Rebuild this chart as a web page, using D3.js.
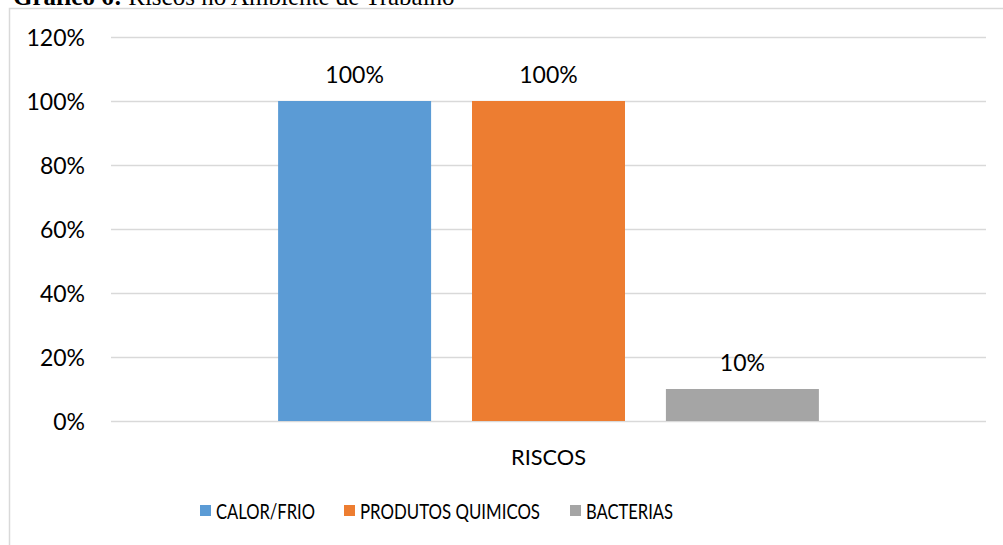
<!DOCTYPE html>
<html>
<head>
<meta charset="utf-8">
<script src="https://cdn.jsdelivr.net/npm/d3@7"></script>
<style>
  body { margin: 0; background: #fff; }
  svg { display: block; }
</style>
</head>
<body>
<svg id="mainsvg" width="1003" height="545"></svg>
<script>
// data
const categories = ["RISCOS"];
const seriesNames = ["CALOR/FRIO", "PRODUTOS QUIMICOS", "BACTERIAS"];
const seriesValues = [1.0, 1.0, 0.1];
const seriesColors = ["#5b9bd5", "#ed7d31", "#a5a5a5"];
const yTicks = [0, 0.2, 0.4, 0.6, 0.8, 1.0, 1.2];

const svg = d3.select("#mainsvg");
const font = "Lato, 'Open Sans', sans-serif";
const numSize = "23px";
const wordSize = "21px";

// the original used a narrow font: fit word labels to the widths it had
const legendX = [200, 344, 570];
const legendTextW = [99, 180, 87];
const catTextW = 75;

function fitText(sel, w) {
  sel.attr("textLength", w).attr("lengthAdjust", "spacingAndGlyphs");
}

// title (cut off at top in the original)
svg.append("text")
  .attr("x", 13)
  .attr("y", 5)
  .style("font-family", "'Liberation Serif', 'DejaVu Serif', serif")
  .style("font-size", "25px")
  .call(t => {
    t.append("tspan").style("font-weight", "bold").text("Gráfico 6:");
    t.append("tspan").text(" Riscos no Ambiente de Trabalho");
  });

// chart frame (only top and left edges visible)
svg.append("path")
  .attr("d", "M9.5,545 L9.5,8.5 L1003,8.5")
  .attr("fill", "none")
  .attr("stroke", "#d9d9d9")
  .attr("stroke-width", 1.5);

const plot = { left: 111, right: 986, top: 37, bottom: 421 };

const y = d3.scaleLinear().domain([0, 1.2]).range([plot.bottom, plot.top]);
const x0 = d3.scaleBand().domain(categories).range([plot.left, plot.right]).paddingInner(0).paddingOuter(0.309);
const x1 = d3.scaleBand().domain(seriesNames).range([0, x0.bandwidth()]).paddingInner(0.211).paddingOuter(0);

// gridlines
svg.append("g")
  .selectAll("line")
  .data(yTicks)
  .join("line")
  .attr("x1", plot.left)
  .attr("x2", plot.right)
  .attr("y1", d => Math.round(y(d)) + 0.5)
  .attr("y2", d => Math.round(y(d)) + 0.5)
  .attr("stroke", "#d9d9d9")
  .attr("stroke-width", 1.5);

// y axis labels
const yAxis = d3.axisLeft(y).tickValues(yTicks).tickFormat(d3.format(".0%")).tickSize(0).tickPadding(0);
svg.append("g")
  .attr("transform", `translate(85,0)`)
  .call(yAxis)
  .call(g => g.select(".domain").remove())
  .call(g => g.selectAll("text")
    .style("font-family", font)
    .style("font-size", numSize)
    .attr("fill", "#000")
    .attr("dy", "0.35em"));

// bars
const bars = svg.append("g");
categories.forEach(cat => {
  bars.selectAll("rect.bar")
    .data(seriesValues.map((v, i) => ({ name: seriesNames[i], value: v, color: seriesColors[i] })))
    .join("rect")
    .attr("class", "bar")
    .attr("x", d => x0(cat) + x1(d.name))
    .attr("y", d => y(d.value))
    .attr("width", x1.bandwidth())
    .attr("height", d => y(0) - y(d.value))
    .attr("fill", d => d.color);

  bars.selectAll("text.lbl")
    .data(seriesValues.map((v, i) => ({ name: seriesNames[i], value: v })))
    .join("text")
    .attr("class", "lbl")
    .attr("x", d => x0(cat) + x1(d.name) + x1.bandwidth() / 2)
    .attr("y", d => y(d.value) - 18)
    .attr("text-anchor", "middle")
    .style("font-family", font)
    .style("font-size", numSize)
    .text(d => d3.format(".0%")(d.value));

  svg.append("text")
    .attr("x", x0(cat) + x0.bandwidth() / 2)
    .attr("y", 465)
    .attr("text-anchor", "middle")
    .style("font-family", font)
    .style("font-size", wordSize)
    .text(cat)
    .call(fitText, catTextW);
});

// legend
const legend = svg.append("g");
seriesNames.forEach((name, i) => {
  const g = legend.append("g").attr("transform", `translate(${legendX[i]},505)`);
  g.append("rect").attr("width", 11).attr("height", 11).attr("fill", seriesColors[i]);
  g.append("text")
    .attr("x", 16)
    .attr("y", 14)
    .style("font-family", font)
    .style("font-size", wordSize)
    .text(name)
    .call(fitText, legendTextW[i]);
});
</script>
</body>
</html>
